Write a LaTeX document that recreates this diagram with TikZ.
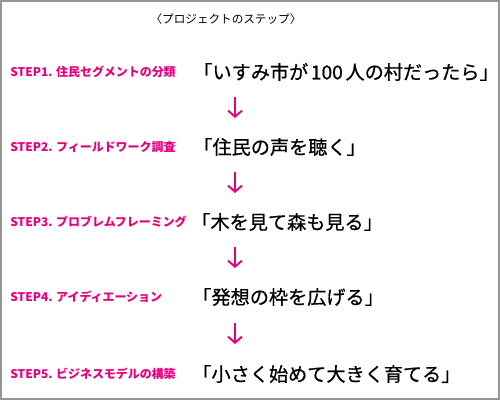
\documentclass[tikz,border=0pt]{standalone}
\usepackage{fontspec}
\setmainfont{Noto Sans CJK JP}
\newfontfamily\phrasefont[FakeBold=0.6]{Noto Sans CJK JP}
\usetikzlibrary{arrows.meta}
\definecolor{stepmagenta}{RGB}{230,0,126}
\definecolor{framegray}{RGB}{150,150,150}

\begin{document}
\begin{tikzpicture}[x=0.02cm, y=-0.02cm,
      steplabel/.style={anchor=west, inner sep=0pt, text=stepmagenta, font=\bfseries\fontsize{6.8}{8}\selectfont},
      phrase/.style={anchor=west, inner sep=0pt, font=\phrasefont\fontsize{10.9}{13}\selectfont},
      flow/.style={draw=stepmagenta, line width=1.1pt, -{Straight Barb[length=3.5pt, width=8pt]}}
    ]
      \useasboundingbox (0,0) rectangle (500,400);
      \draw[framegray, line width=0.9pt] (0.8,0.8) rectangle (499.2,399.2);

      % Title
      \node[inner sep=0pt, font=\fontsize{6.6}{8}\selectfont] (title) at (226,19) {〈プロジェクトのステップ〉};

      % Step labels
      \node[steplabel] (s1) at (10,72) {STEP1. 住民セグメントの分類};
      \node[steplabel] (s2) at (10,147) {STEP2. フィールドワーク調査};
      \node[steplabel] (s3) at (10,222) {STEP3. プロブレムフレーミング};
      \node[steplabel] (s4) at (10,297) {STEP4. アイディエーション};
      \node[steplabel] (s5) at (10,374) {STEP5. ビジネスモデルの構築};

      % Phrases
      \node[phrase] (p1) at (193,72) {「いすみ市が\hspace{0.14em}100\hspace{0.14em}人の村だったら」};
      \node[phrase] (p2) at (193,147) {「住民の声を聴く」};
      \node[phrase] (p3) at (191,222) {「木を見て森も見る」};
      \node[phrase] (p4) at (192,297) {「発想の枠を広げる」};
      \node[phrase] (p5) at (192,374) {「小さく始めて大きく育てる」};

      % Arrows between steps
      \coordinate (a1top) at (235,97);  \coordinate (a1end) at (235,118);
      \coordinate (a2top) at (235,172); \coordinate (a2end) at (235,193);
      \coordinate (a3top) at (235,247); \coordinate (a3end) at (235,268);
      \coordinate (a4top) at (235,323); \coordinate (a4end) at (235,344);
      \draw[flow] (a1top) -- (a1end);
      \draw[flow] (a2top) -- (a2end);
      \draw[flow] (a3top) -- (a3end);
      \draw[flow] (a4top) -- (a4end);
    \end{tikzpicture}
\end{document}
